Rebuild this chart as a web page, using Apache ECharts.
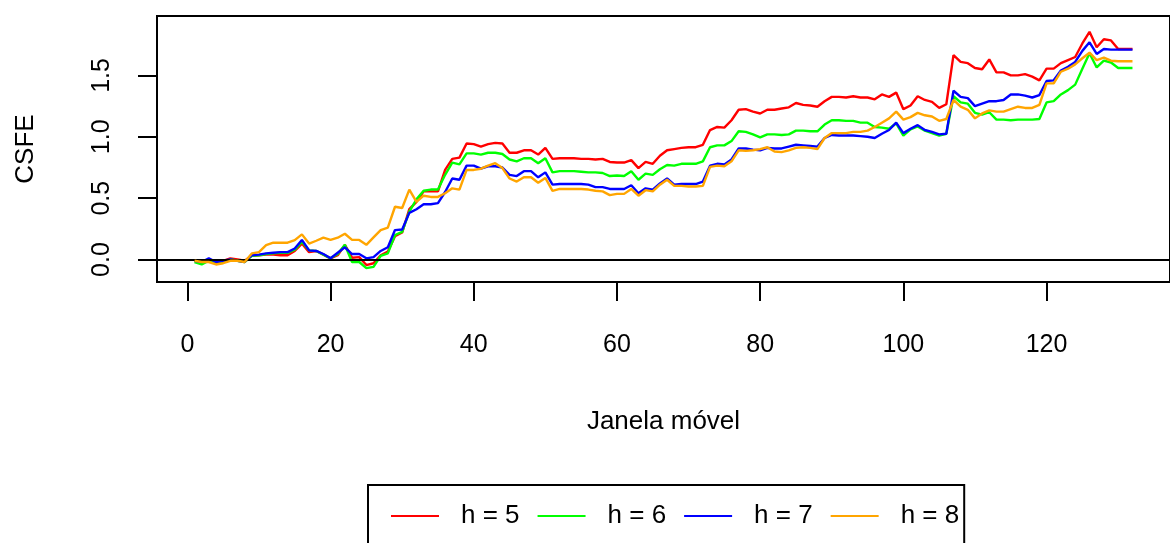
<!DOCTYPE html>
<html>
<head>
<meta charset="utf-8">
<script src="https://cdn.jsdelivr.net/npm/echarts@6/dist/echarts.min.js"></script>
<style>
html,body{margin:0;padding:0;background:#fff;}
#c{width:1170px;height:543px;}
</style>
</head>
<body>
<div id="c"></div>
<script>
const seriesNames = ['h = 5', 'h = 6', 'h = 7', 'h = 8'];
const h5 = [-0.01,-0.02,0.0,-0.02,-0.01,0.01,0.0,-0.01,0.03,0.035,0.04,0.04,0.035,0.035,0.07,0.13,0.06,0.07,0.04,0.01,
0.035,0.12,0.015,0.02,-0.045,-0.03,0.035,0.065,0.19,0.22,0.41,0.47,0.555,0.555,0.555,0.73,0.82,0.83,0.945,0.94,
0.92,0.94,0.95,0.945,0.87,0.87,0.89,0.89,0.855,0.91,0.82,0.825,0.825,0.825,0.82,0.82,0.815,0.82,0.795,0.79,
0.79,0.81,0.745,0.795,0.78,0.845,0.89,0.9,0.91,0.915,0.915,0.935,1.055,1.08,1.075,1.135,1.22,1.225,1.205,1.19,
1.22,1.22,1.23,1.24,1.275,1.26,1.255,1.245,1.29,1.325,1.325,1.32,1.33,1.32,1.32,1.305,1.345,1.325,1.36,1.225,
1.255,1.33,1.3,1.285,1.235,1.265,1.665,1.61,1.6,1.56,1.55,1.63,1.525,1.525,1.5,1.5,1.51,1.49,1.46,1.555,
1.555,1.6,1.625,1.65,1.76,1.855,1.73,1.795,1.785,1.715,1.715,1.715];
const h6 = [-0.02,-0.04,-0.01,-0.03,-0.02,0.0,-0.01,-0.02,0.03,0.035,0.045,0.05,0.055,0.055,0.08,0.145,0.075,0.07,0.04,0.01,
0.045,0.12,-0.02,-0.02,-0.07,-0.06,0.03,0.05,0.2,0.225,0.39,0.49,0.56,0.57,0.57,0.69,0.79,0.775,0.865,0.865,
0.855,0.87,0.87,0.86,0.815,0.8,0.825,0.825,0.785,0.825,0.71,0.72,0.72,0.72,0.715,0.71,0.71,0.705,0.68,0.685,
0.68,0.72,0.65,0.7,0.69,0.735,0.77,0.765,0.78,0.78,0.78,0.8,0.915,0.93,0.93,0.965,1.045,1.04,1.02,0.995,
1.02,1.02,1.015,1.02,1.05,1.05,1.045,1.045,1.1,1.135,1.135,1.13,1.13,1.115,1.115,1.08,1.075,1.065,1.11,1.01,
1.06,1.085,1.05,1.03,1.01,1.025,1.33,1.28,1.27,1.195,1.18,1.2,1.14,1.14,1.135,1.14,1.14,1.14,1.145,1.28,
1.29,1.345,1.38,1.425,1.555,1.68,1.565,1.62,1.605,1.56,1.56,1.56];
const h7 = [-0.01,-0.02,0.01,-0.02,-0.01,0.0,-0.01,-0.02,0.035,0.04,0.05,0.055,0.06,0.06,0.09,0.16,0.075,0.07,0.045,0.01,
0.055,0.1,0.045,0.045,0.01,0.02,0.07,0.1,0.24,0.245,0.38,0.41,0.45,0.45,0.46,0.55,0.66,0.65,0.765,0.765,
0.74,0.76,0.76,0.75,0.69,0.68,0.72,0.72,0.67,0.71,0.61,0.615,0.615,0.615,0.615,0.61,0.59,0.59,0.575,0.575,
0.575,0.605,0.54,0.58,0.57,0.62,0.66,0.61,0.615,0.615,0.615,0.635,0.765,0.78,0.775,0.815,0.905,0.905,0.895,0.89,
0.91,0.905,0.905,0.92,0.935,0.93,0.925,0.92,0.99,1.015,1.01,1.01,1.01,1.005,1.0,0.99,1.025,1.055,1.115,1.03,
1.065,1.095,1.055,1.04,1.02,1.025,1.375,1.325,1.315,1.25,1.27,1.29,1.29,1.3,1.345,1.345,1.335,1.32,1.34,1.455,
1.46,1.54,1.57,1.61,1.7,1.77,1.675,1.715,1.71,1.71,1.71,1.71];
const h8 = [-0.01,-0.02,-0.02,-0.04,-0.03,-0.01,-0.01,-0.02,0.05,0.06,0.117,0.137,0.137,0.137,0.158,0.205,0.13,0.153,0.178,0.16,
0.178,0.21,0.16,0.16,0.12,0.18,0.24,0.26,0.43,0.42,0.57,0.47,0.52,0.51,0.51,0.54,0.58,0.57,0.73,0.73,
0.74,0.765,0.785,0.745,0.66,0.635,0.67,0.67,0.625,0.665,0.56,0.575,0.575,0.575,0.575,0.57,0.56,0.555,0.525,0.535,
0.535,0.575,0.52,0.565,0.555,0.61,0.65,0.6,0.6,0.595,0.595,0.6,0.755,0.765,0.76,0.8,0.89,0.885,0.89,0.9,
0.915,0.88,0.875,0.89,0.91,0.915,0.91,0.9,0.99,1.03,1.03,1.03,1.04,1.04,1.05,1.08,1.115,1.15,1.205,1.14,
1.16,1.195,1.175,1.165,1.13,1.145,1.3,1.245,1.22,1.15,1.19,1.215,1.205,1.205,1.225,1.245,1.235,1.235,1.26,1.435,
1.435,1.53,1.555,1.59,1.64,1.685,1.625,1.645,1.62,1.615,1.615,1.615];
const xTicks = [0, 20, 40, 60, 80, 100, 120];
const yTicks = [0, 0.5, 1, 1.5];
const colors = ['#FF0000', '#00FF00', '#0000FF', '#FFA500'];

const FONT = 'Liberation Sans, Arial, Helvetica, sans-serif';
const allSeries = [h5, h6, h7, h8];
const chart = echarts.init(document.getElementById('c'), null, {renderer: 'canvas'});

const series = allSeries.map((arr, k) => {
  const s = {
    name: seriesNames[k],
    type: 'line',
    data: arr.map((v, i) => [i + 1, v]),
    symbol: 'none',
    lineStyle: {color: colors[k], width: 2.4},
    itemStyle: {color: colors[k]},
    animation: false,
    z: 2 + k
  };
  if (k === 0) {
    s.markLine = {
      silent: true,
      symbol: 'none',
      label: {show: false},
      lineStyle: {color: '#000', width: 2, type: 'solid'},
      data: [{yAxis: 0}],
      animation: false
    };
  }
  return s;
});

chart.setOption({
  animation: false,
  backgroundColor: '#fff',
  grid: {
    left: 157, top: 16, right: -11, bottom: 261,
    show: true, borderColor: '#000', borderWidth: 2, backgroundColor: 'transparent'
  },
  xAxis: {
    type: 'value',
    min: -4.24, max: 137.24,
    name: 'Janela móvel',
    nameLocation: 'middle',
    nameGap: 127,
    nameTextStyle: {fontFamily: FONT, fontSize: 26, color: '#000'},
    axisLine: {show: false, onZero: false},
    splitLine: {show: false},
    axisTick: {show: true, inside: false, length: 19, lineStyle: {color: '#000', width: 2}, customValues: xTicks},
    axisLabel: {fontFamily: FONT, fontSize: 25, color: '#000', margin: 51, customValues: xTicks,
      formatter: v => String(v)}
  },
  yAxis: {
    type: 'value',
    min: -0.183, max: 1.984,
    name: 'CSFE',
    nameLocation: 'middle',
    nameRotate: 90,
    nameGap: 118,
    nameTextStyle: {fontFamily: FONT, fontSize: 26, color: '#000'},
    axisLine: {show: false, onZero: false},
    splitLine: {show: false},
    axisTick: {show: true, inside: false, length: 19, lineStyle: {color: '#000', width: 2}, customValues: yTicks},
    axisLabel: {fontFamily: FONT, fontSize: 25, color: '#000', margin: 42, rotate: 90, customValues: yTicks,
      formatter: v => v.toFixed(1)}
  },
  legend: {
    left: 368, top: 485,
    orient: 'horizontal',
    data: seriesNames,
    icon: 'rect',
    itemWidth: 48, itemHeight: 2,
    itemGap: 18,
    padding: [18, 5, 30, 23],
    borderColor: '#000', borderWidth: 2,
    textStyle: {fontFamily: FONT, fontSize: 26, color: '#000', padding: [0, 0, 0, 17]}
  },
  series: series
});
</script>
</body>
</html>
